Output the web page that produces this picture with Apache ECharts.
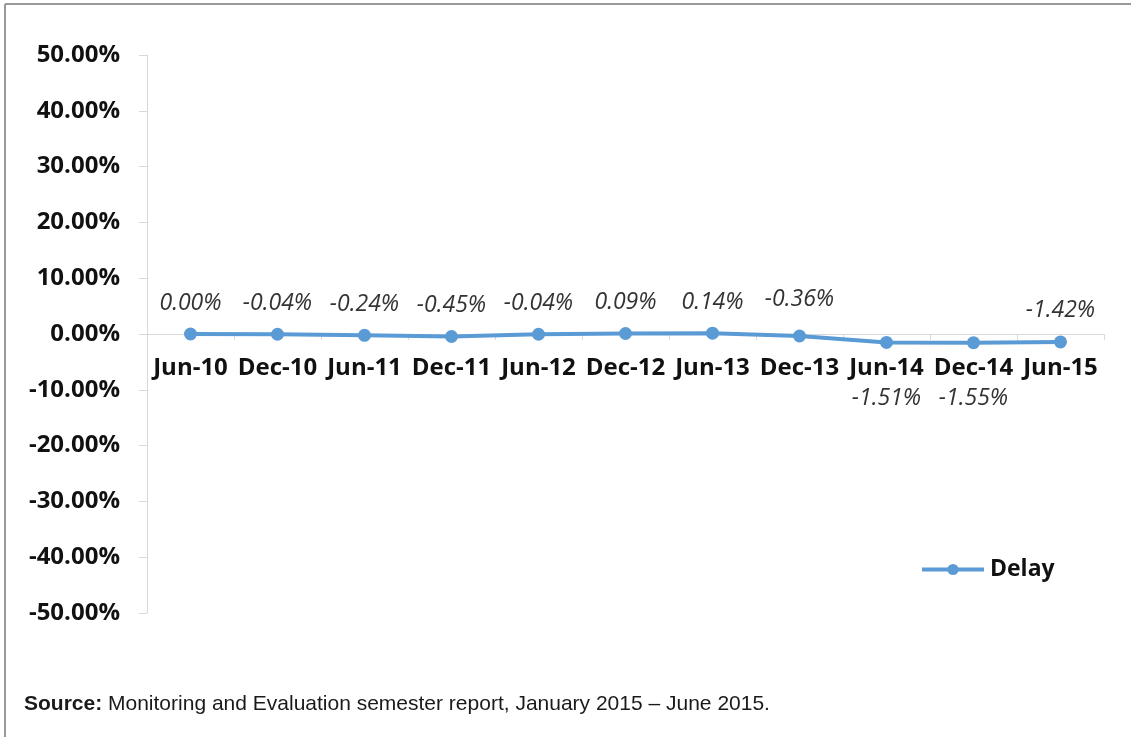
<!DOCTYPE html>
<html>
<head>
<meta charset="utf-8">
<style>
  html, body { margin: 0; padding: 0; background: #fff; }
  #chart { width: 1131px; height: 737px; }
</style>
<script src="https://cdn.jsdelivr.net/npm/echarts@6/dist/echarts.min.js"></script>
</head>
<body>
<div id="chart"></div>
<script>
const categories = ['Jun-10', 'Dec-10', 'Jun-11', 'Dec-11', 'Jun-12', 'Dec-12', 'Jun-13', 'Dec-13', 'Jun-14', 'Dec-14', 'Jun-15'];
const delayValues = [0.00, -0.04, -0.24, -0.45, -0.04, 0.09, 0.14, -0.36, -1.51, -1.55, -1.42];
// where each value label sits relative to its point
const labelSides = ['top', 'top', 'top', 'top', 'top', 'top', 'top', 'top', 'bottom', 'bottom', 'top'];
const yMin = -50;
const yMax = 50;
const yStep = 10;

const chart = echarts.init(document.getElementById('chart'));

const seriesData = delayValues.map((v, i) => ({
  value: v,
  label: {
    position: labelSides[i],
    distance: labelSides[i] === 'bottom' ? 38 : (i === 7 ? 19 : 13)
  }
}));

const gridTop = 55;
const gridBottom = 124;
const gridHeight = 737 - gridTop - gridBottom;
// move the category axis (line, ticks and labels) up to the zero line
const zeroOffset = -gridHeight * (0 - yMin) / (yMax - yMin);

const option = {
  backgroundColor: '#ffffff',
  animation: false,
  title: {
    left: 19,
    top: 689,
    text: '{b|Source:} Monitoring and Evaluation semester report, January 2015 \u2013 June 2015.',
    textStyle: {
      fontFamily: 'Liberation Sans, Arial, sans-serif',
      fontSize: 21,
      fontWeight: 'normal',
      color: '#1a1a1a',
      rich: {
        b: {
          fontFamily: 'Liberation Sans, Arial, sans-serif',
          fontSize: 21,
          fontWeight: 'bold',
          color: '#1a1a1a'
        }
      }
    }
  },
  graphic: [
    { type: 'line', shape: { x1: 5, y1: 4, x2: 1131, y2: 4 }, style: { stroke: '#999999', lineWidth: 2 } },
    { type: 'line', shape: { x1: 5, y1: 4, x2: 5, y2: 737 }, style: { stroke: '#999999', lineWidth: 2 } }
  ],
  legend: {
    left: 915,
    top: 553,
    itemWidth: 62,
    itemHeight: 14,
    data: ['Delay'],
    lineStyle: { width: 4 },
    textStyle: {
      fontFamily: 'Open Sans, sans-serif',
      fontWeight: 'bold',
      fontSize: 23,
      color: '#111',
      padding: [0, 0, 0, 1]
    }
  },
  grid: {
    left: 147,
    right: 27,
    top: gridTop,
    bottom: gridBottom
  },
  xAxis: {
    type: 'category',
    data: categories,
    offset: zeroOffset,
    axisLine: { onZero: false, lineStyle: { color: '#d9d9d9', width: 1 } },
    axisTick: { show: true, interval: 0, length: 6, lineStyle: { color: '#d9d9d9' } },
    axisLabel: {
      interval: 0,
      margin: 22,
      fontFamily: 'Open Sans, sans-serif',
      fontWeight: 'bold',
      fontSize: 24,
      color: '#111'
    }
  },
  yAxis: {
    type: 'value',
    min: yMin,
    max: yMax,
    interval: yStep,
    axisLine: { show: true, lineStyle: { color: '#d9d9d9', width: 1 } },
    axisTick: { show: true, length: 8, lineStyle: { color: '#d9d9d9' } },
    splitLine: { show: false },
    axisLabel: {
      margin: 27,
      fontFamily: 'Open Sans, sans-serif',
      fontWeight: 'bold',
      fontSize: 24,
      color: '#111',
      formatter: v => v.toFixed(2) + '%'
    }
  },
  series: [
    {
      name: 'Delay',
      type: 'line',
      data: seriesData,
      symbol: 'circle',
      symbolSize: 13,
      lineStyle: { color: '#5B9BD5', width: 4 },
      itemStyle: { color: '#5B9BD5' },
      label: {
        show: true,
        fontFamily: 'Open Sans, sans-serif',
        fontStyle: 'italic',
        fontSize: 23,
        color: '#333',
        formatter: p => p.value.toFixed(2) + '%'
      }
    }
  ]
};

chart.setOption(option);
</script>
</body>
</html>
